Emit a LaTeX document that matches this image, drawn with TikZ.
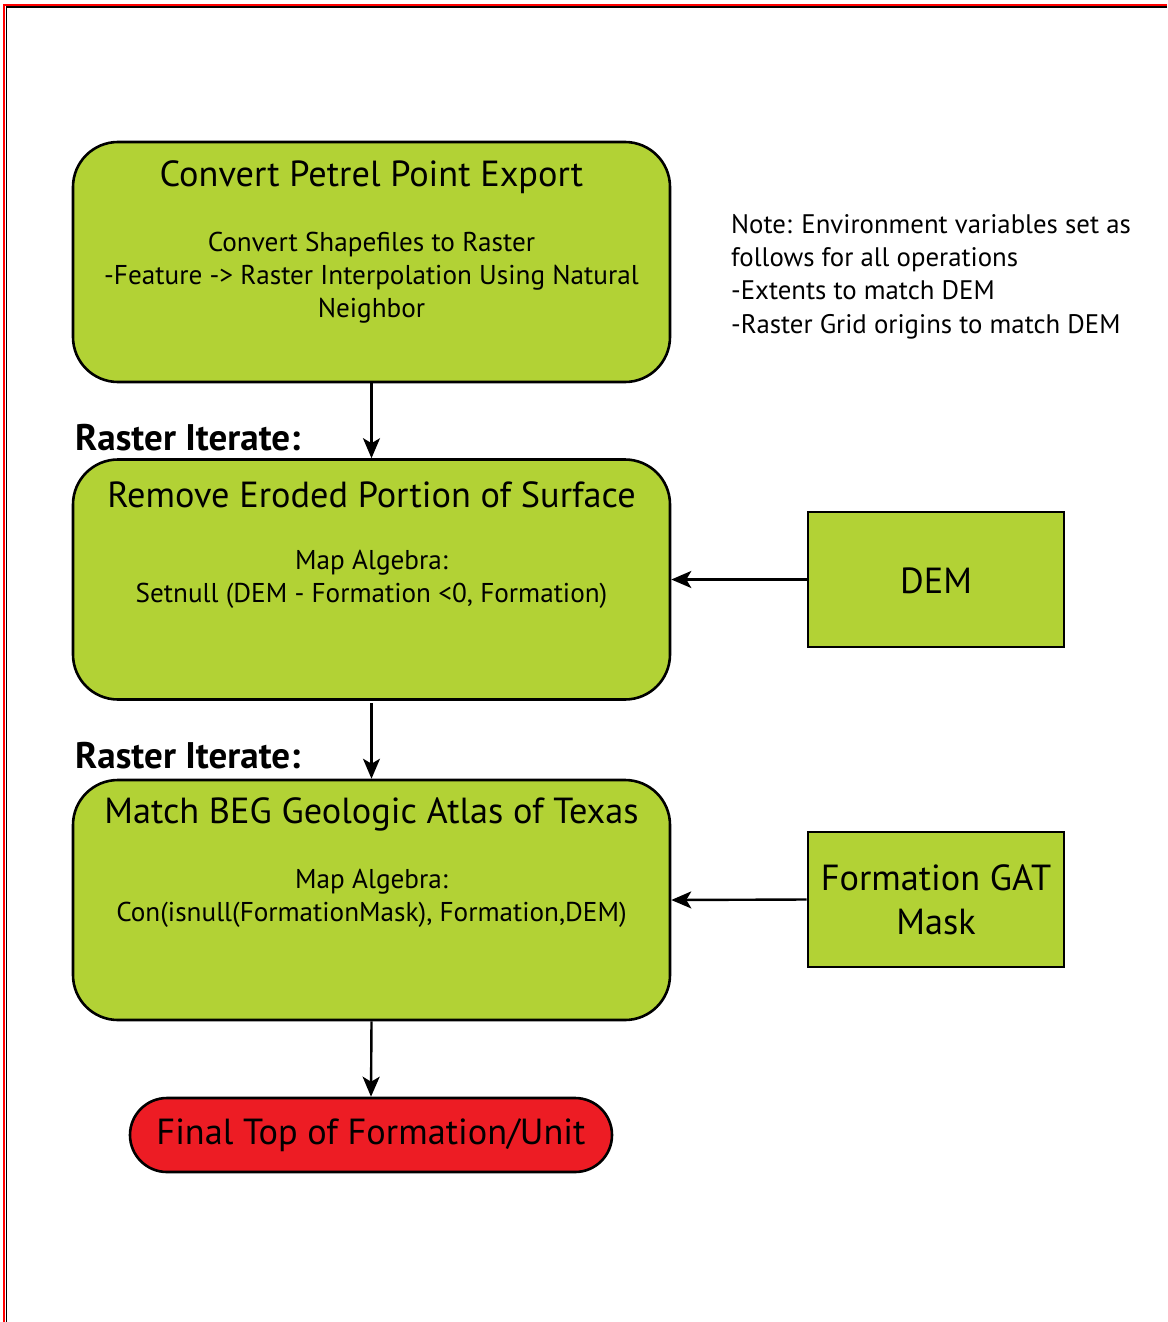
\documentclass[tikz,border=0pt]{standalone}
\usepackage{fontspec}
\setmainfont{PT Sans}
\usetikzlibrary{arrows.meta}
\definecolor{boxgreen}{HTML}{B2D235}
\definecolor{pillred}{HTML}{ED1C24}
\definecolor{framered}{HTML}{FF0000}
\tikzset{
  greenbox/.style={draw=black, line width=2.6pt, fill=boxgreen, rounded corners=45pt, minimum width=597pt, minimum height=240pt, inner sep=0pt},
  sidebox/.style={draw=black, line width=2.6pt, fill=boxgreen, minimum width=256pt, minimum height=135pt, inner sep=0pt},
  pill/.style={draw=black, line width=2.6pt, fill=pillred, rounded corners=37pt, minimum width=482pt, minimum height=74pt, inner sep=0pt},
  ttl/.style={inner sep=0pt, font=\fontsize{36.3}{44}\selectfont},
  sub/.style={inner sep=0pt, align=center, font=\fontsize{27.2}{33}\selectfont},
  lbl/.style={inner sep=0pt, anchor=west, font=\fontsize{37}{40}\selectfont\bfseries},
  note/.style={inner sep=0pt, anchor=north west, align=left, font=\fontsize{26.8}{33.3}\selectfont},
  conn/.style={line width=2.4pt, -{Stealth[length=20pt,width=17pt,inset=5pt]}}
}
\begin{document}
\begin{tikzpicture}[x=1pt,y=-1pt]
\useasboundingbox (0,0) rectangle (1167,1322);
\fill[white] (0,0) rectangle (1167,1322);
% frame
\draw[framered, line width=2.2pt] (4,1322) -- (4,5) -- (1167,5);
\draw[black, line width=1.6pt] (6.4,1322) -- (6.4,7) -- (1167,7);
% boxes
\node[greenbox] (b1) at (371.5,262) {};
\node[greenbox] (b2) at (371.5,579.5) {};
\node[greenbox] (b3) at (371.5,900) {};
\node[sidebox] (dem) at (936,579.5) {};
\node[sidebox] (gat) at (936,899.5) {};
\node[pill] (fin) at (371,1135) {};
% texts
\node[ttl] (t1) at (371.5,177) {Convert Petrel Point Export};
\node[sub, anchor=north] (s1) at (371.5,232) {Convert Shapefiles to Raster\\-Feature -> Raster Interpolation Using Natural\\Neighbor};
\node[ttl] (t2) at (371.5,495) {Remove Eroded Portion of Surface};
\node[sub, anchor=north] (s2) at (371.5,550) {Map Algebra:\\Setnull (DEM - Formation <0, Formation)};
\node[ttl] (t3) at (371.5,814) {Match BEG Geologic Atlas of Texas};
\node[sub, anchor=north] (s3) at (371.5,869) {Map Algebra:\\Con(isnull(FormationMask), Formation,DEM)};
\node[ttl] (td) at (936,581) {DEM};
\node[ttl, align=center, font=\fontsize{36.3}{44}\selectfont] (tg) at (936,900) {Formation GAT\\Mask};
\node[ttl] (tf) at (371,1135) {Final Top of Formation/Unit};
\node[lbl] (r1) at (75,438) {Raster Iterate:};
\node[lbl] (r2) at (75,756) {Raster Iterate:};
\node[note] (nt) at (731,214) {Note: Environment variables set as\\follows for all operations\\-Extents to match DEM\\-Raster Grid origins to match DEM};
% connectors
\coordinate (b2out) at (371.5,703);
\draw[conn] (b1.south) -- (b2.north);
\draw[conn] (b2out) -- (b3.north);
\draw[conn] (b3.south) -- (fin.north);
\draw[conn] (dem.west) -- (b2.east);
\draw[conn] (gat.west) -- (b3.east);
\end{tikzpicture}
\end{document}
